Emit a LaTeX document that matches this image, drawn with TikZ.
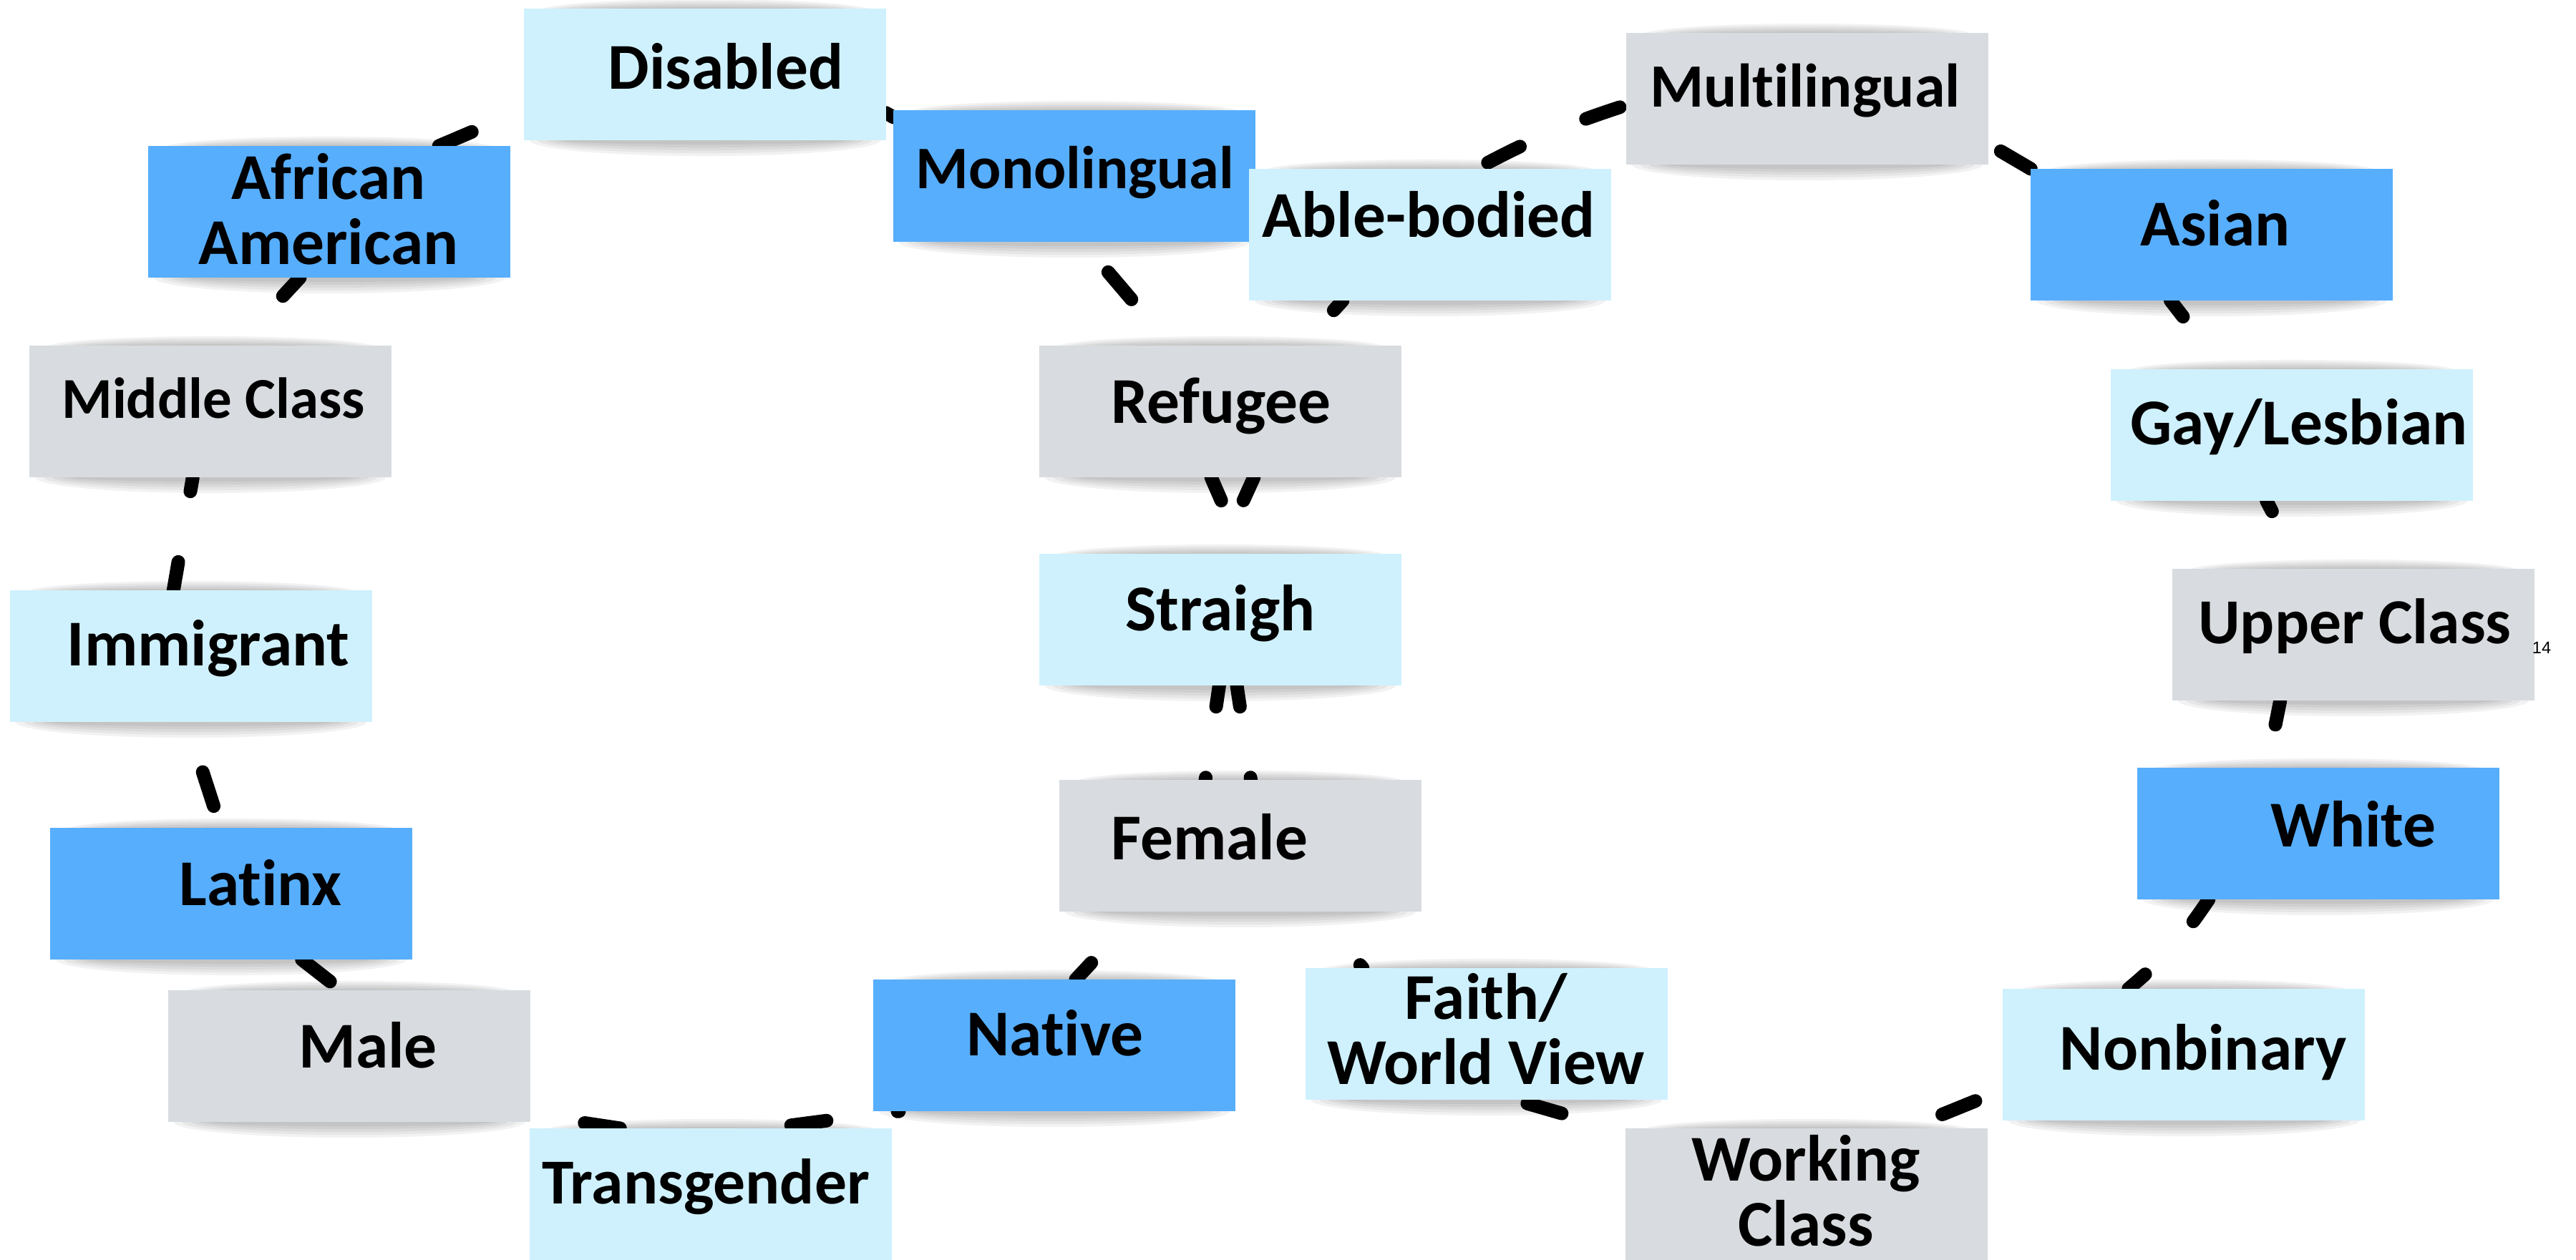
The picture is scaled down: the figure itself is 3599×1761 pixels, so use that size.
\documentclass[tikz,border=0pt]{standalone}
\usepackage{fontspec}
\setmainfont{Carlito}[Ligatures=NoCommon]
\newfontfamily\pagenumfont{Liberation Sans}
\usepackage{tikz}
\definecolor{palecyan}{RGB}{207,241,253}
\definecolor{skyblue}{RGB}{87,174,253}
\definecolor{ashgray}{RGB}{216,220,224}
\pgfdeclarelayer{lines}
\pgfdeclarelayer{shades}
\pgfsetlayers{lines,shades,main}
\tikzset{
sticky_note/.style={rectangle, fill=#1, minimum width=5.05cm, minimum height=1.84cm, inner sep=0pt, outer sep=0pt},
note_text/.style={font=\fontsize{26}{26}\selectfont\bfseries, anchor=base, inner sep=0pt},
note_text_two/.style={note_text, align=center, anchor=center},
note_shadow/.style={black, opacity=0.05},
loop_line/.style={line width=0.19cm, line cap=round, dash pattern=on 0.5cm off 1cm}
}

\begin{document}
\begin{tikzpicture}[x=0.01cm, y=-0.01cm]
    \useasboundingbox (0,0) rectangle (3599,1761);

    \node[sticky_note=palecyan] (disabled) at (985,104) {};
    \node[sticky_note=skyblue] (african_american) at (460,296) {};
    \node[sticky_note=skyblue] (monolingual) at (1501,246) {};
    \node[sticky_note=palecyan] (able_bodied) at (1998,328) {};
    \node[sticky_note=ashgray] (multilingual) at (2525,138) {};
    \node[sticky_note=skyblue] (asian) at (3090,328) {};
    \node[sticky_note=ashgray] (middle_class) at (294,575) {};
    \node[sticky_note=ashgray] (refugee) at (1705,575) {};
    \node[sticky_note=palecyan] (gay_lesbian) at (3202,608) {};
    \node[sticky_note=palecyan] (immigrant) at (267,917) {};
    \node[sticky_note=palecyan] (straigh) at (1705,866) {};
    \node[sticky_note=ashgray] (upper_class) at (3288,887) {};
    \node[sticky_note=skyblue] (latinx) at (323,1249) {};
    \node[sticky_note=ashgray] (female) at (1733,1182) {};
    \node[sticky_note=skyblue] (white) at (3239,1165) {};
    \node[sticky_note=ashgray] (male) at (488,1476) {};
    \node[sticky_note=skyblue] (native) at (1473,1461) {};
    \node[sticky_note=palecyan] (faith) at (2077,1445) {};
    \node[sticky_note=palecyan] (nonbinary) at (3051,1474) {};
    \node[sticky_note=palecyan] (transgender) at (993,1669) {};
    \node[sticky_note=ashgray] (working_class) at (2524,1669) {};

    \node[note_text] (disabled_text) at (1014,125) {Disabled};
    \node[note_text_two] (african_american_text) at (459,292) {African\\American};
    \node[note_text, font=\fontsize{24}{24}\selectfont\bfseries] (monolingual_text) at (1502,264) {Monolingual};
    \node[note_text] (able_bodied_text) at (1996,332) {Able-bodied};
    \node[note_text, font=\fontsize{24.5}{24}\selectfont\bfseries] (multilingual_text) at (2522,150) {Multilingual};
    \node[note_text] (asian_text) at (3095,344) {Asian};
    \node[note_text, font=\fontsize{23}{24}\selectfont\bfseries] (middle_class_text) at (298,584) {Middle Class};
    \node[note_text] (refugee_text) at (1706,592) {Refugee};
    \node[note_text] (gay_lesbian_text) at (3212,622) {Gay/Lesbian};
    \node[note_text] (immigrant_text) at (291,930) {Immigrant};
    \node[note_text] (straigh_text) at (1705,881) {Straigh};
    \node[note_text, font=\fontsize{25.5}{24}\selectfont\bfseries] (upper_class_text) at (3290,899) {Upper Class};
    \node[note_text] (latinx_text) at (364,1265) {Latinx};
    \node[note_text] (female_text) at (1690,1201) {Female};
    \node[note_text] (white_text) at (3288,1183) {White};
    \node[note_text] (male_text) at (514,1492) {Male};
    \node[note_text] (native_text) at (1474,1475) {Native};
    \node[note_text_two] (faith_text) at (2076,1438) {Faith/\\World View};
    \node[note_text] (nonbinary_text) at (3078,1495) {Nonbinary};
    \node[note_text, font=\fontsize{25.5}{24}\selectfont\bfseries] (transgender_text) at (986,1682) {Transgender};
    \node[note_text_two] (working_class_text) at (2523,1664) {Working\\Class};
    \node[font=\pagenumfont\fontsize{6.7}{8}\selectfont, anchor=base, inner sep=0pt] (page_number) at (3551,913) {14};

    \begin{pgfonlayer}{shades}
    \foreach \n in {disabled, african_american, monolingual, able_bodied, multilingual, asian, middle_class, refugee, gay_lesbian, immigrant, straigh, upper_class, latinx, female, white, male, native, faith, nonbinary, transgender, working_class} {
        \foreach \k in {0,...,4} {
            \fill[note_shadow] ([yshift=-0.03cm]\n.north) ellipse [x radius={2.3cm-\k*0.12cm}, y radius={0.16cm-\k*0.028cm}];
            \fill[note_shadow] (\n.south) ellipse [x radius={2.45cm-\k*0.12cm}, y radius={0.22cm-\k*0.04cm}];
        }
    }
    \end{pgfonlayer}

    \begin{pgfonlayer}{lines}
    \draw[loop_line] (african_american.31) -- (disabled.191);
    \draw[loop_line, dash phase=0.15cm] (african_american.246) -- (middle_class.68);
    \draw[loop_line, dash phase=0.3cm] (middle_class.255) -- (immigrant.105);
    \draw[loop_line, dash phase=0.765cm] (immigrant.266) -- (latinx.99);
    \draw[loop_line] (latinx.317) -- (male.97);
    \draw[loop_line] (transgender.144) -- (male.342);
    \draw[loop_line, dash phase=1.175cm] (transgender.49) -- (native.203);
    \draw[loop_line, dash phase=0.18cm] (native.72) -- (female.213);
    \draw[loop_line, dash phase=0.2cm] (straigh.269) -- (female.118);
    \draw[loop_line, dash phase=0.145cm] (refugee.297) -- (straigh.91);
    \draw[loop_line, dash phase=0.945cm] (monolingual.277) -- (refugee.127);
    \draw[loop_line] (monolingual.162) -- (disabled.348);

    \draw[loop_line, dash phase=1.315cm] (able_bodied.55) to[bend left=5] (multilingual.182);
    \draw[loop_line, dash phase=1.295cm] (multilingual.346) -- (asian.160);
    \draw[loop_line, dash phase=0.215cm] (asian.238) -- (gay_lesbian.136);
    \draw[loop_line, dash phase=0.335cm] (gay_lesbian.249) -- (upper_class.128);
    \draw[loop_line, dash phase=0.155cm] (upper_class.222) -- (white.128);
    \draw[loop_line, dash phase=0.125cm] (white.211) to[bend left=8] (nonbinary.130);
    \draw[loop_line, dash phase=1.085cm] (nonbinary.191) -- (working_class.33);
    \draw[loop_line, dash phase=1.315cm] (faith.293) -- (working_class.161);
    \draw[loop_line, dash phase=0.535cm] (female.319) -- (faith.152);
    \draw[loop_line, dash phase=0.2cm] (straigh.284) -- (female.81);
    \draw[loop_line, dash phase=0.145cm] (refugee.262) -- (straigh.70);
    \draw[loop_line, dash phase=0.315cm] (able_bodied.217) -- (refugee.39);
    \end{pgfonlayer}
\end{tikzpicture}
\end{document}
